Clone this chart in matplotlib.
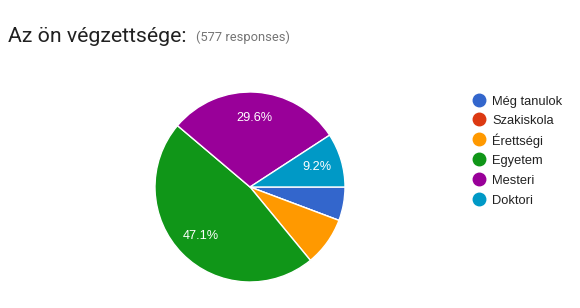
import matplotlib.pyplot as plt

# Survey data: "Az ön végzettsége:" (577 responses)
categories = ["Még tanulok", "Szakiskola", "Érettségi", "Egyetem", "Mesteri", "Doktori"]
counts = [33, 0, 48, 272, 171, 53]
colors = ["#3366cc", "#dc3912", "#ff9900", "#109618", "#990099", "#0099c6"]
total_responses = 577

W, H = 580, 308
fig = plt.figure(figsize=(W / 100, H / 100), dpi=100)
fig.patch.set_facecolor("white")

# Pie axes placed in pixel terms: center (250, 187), radius 95
cx, cy, r = 250, 187, 95
ax = fig.add_axes([(cx - r) / W, (H - cy - r) / H, 2 * r / W, 2 * r / H])


def pct_label(p):
    return f"{p:.1f}%" if p >= 9 else ""


wedges, texts, autotexts = ax.pie(
    counts, colors=colors, startangle=0, counterclock=False, radius=1,
    autopct=pct_label, pctdistance=0.73,
    wedgeprops=dict(edgecolor="white", linewidth=1),
    textprops=dict(color="white", fontsize=9.2, family=["Liberation Sans", "DejaVu Sans"]),
)
ax.set_xlim(-1.0, 1.0)
ax.set_ylim(-1.0, 1.0)
ax.set_aspect("equal")
ax.axis("off")

# Title
fig.text(8 / W, 1 - 37 / H, "Az ön végzettsége:", fontsize=15.3, color="#212121",
         family=["Roboto", "DejaVu Sans"], va="center", ha="left")
fig.text(196 / W, 1 - 37 / H, f"({total_responses} responses)", fontsize=9.3,
         color="#757575", family=["Roboto", "DejaVu Sans"], va="center", ha="left")

# Legend, drawn by hand so rows are evenly spaced
lax = fig.add_axes([0, 0, 1, 1])
lax.set_xlim(0, W)
lax.set_ylim(H, 0)
lax.axis("off")
for i, (name, c) in enumerate(zip(categories, colors)):
    y = 99.5 + 19.8 * i
    lax.plot(478.5, y, marker="o", markersize=9, color=c, linestyle="none")
    lax.text(492, y + 0.5, name, fontsize=9.3, color="#222222",
             va="center_baseline", ha="left",
             family=["Liberation Sans", "DejaVu Sans"])

fig.savefig("out.png", dpi=100, facecolor="white")
